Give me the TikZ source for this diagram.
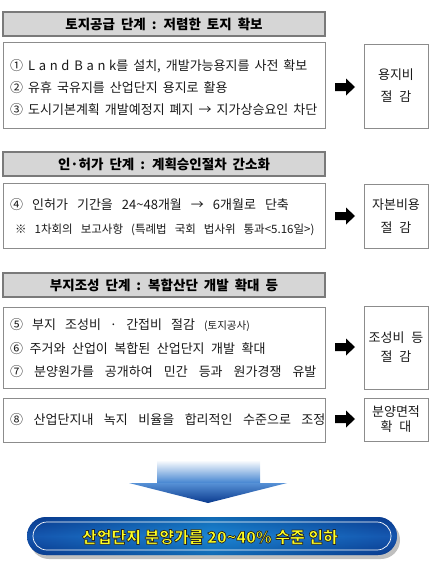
\documentclass[tikz,border=0pt]{standalone}
\usepackage{fontspec}
\setmainfont{Noto Sans CJK KR}
\usetikzlibrary{shadings}
\definecolor{hdfill}{HTML}{D6D6D6}
\definecolor{hdline}{HTML}{7A7A7A}
\definecolor{bxline}{HTML}{8C8C8C}
\definecolor{navy}{HTML}{0A3A8E}
\definecolor{midblue}{HTML}{1E6CC8}
\definecolor{cyanb}{HTML}{1AA6E4}
\definecolor{txtyel}{HTML}{FFFF20}
\definecolor{txtdark}{HTML}{1A1A1A}
\newcommand{\lsp}[1]{{\addfontfeatures{LetterSpace=28}#1}}
\newcommand{\sps}[1]{\spaceskip=#1\relax}
\tikzset{
  hdbox/.style={draw=hdline, line width=1.1pt, fill=hdfill, minimum width=322pt, minimum height=24pt, inner sep=0pt, font={\fontsize{13.5}{17}\selectfont\bfseries\sps{6pt}}},
  ctbox/.style={draw=bxline, line width=0.8pt, fill=white, minimum width=322pt, inner sep=0pt},
  rtbox/.style={draw=bxline, line width=0.8pt, fill=white, minimum width=64pt, inner sep=0pt, align=center, font={\fontsize{13}{15}\selectfont\sps{7pt}}, text=txtdark},
  ln/.style={anchor=west, inner sep=0pt, font={\fontsize{13}{15}\selectfont\sps{5pt}}, text=txtdark},
  sm/.style={anchor=west, inner sep=0pt, font={\fontsize{11.5}{13}\selectfont\sps{8pt}}, text=txtdark},
  blk/.style={fill=black, draw=none},
}
\newcommand{\blkarrow}[1]{\fill[blk] (#1) ++(-10,-4) -- ++(11,0) -- ++(0,-4.5) -- ++(9,8.5) -- ++(-9,8.5) -- ++(0,-4.5) -- ++(-11,0) -- cycle;}
\begin{document}
\begin{tikzpicture}[x=1pt,y=-1pt]
\useasboundingbox (0,0) rectangle (430,565);
% ---------- stage 1
\node[hdbox] (h1) at (164,24) {토지공급 단계 : 저렴한 토지 확보};
\node[ctbox, minimum height=86pt] (b1) at (164,85) {};
\node[ln] (l1) at (10,66) {① \lsp{Land Bank}를 설치, 개발가능용지를 사전 확보};
\node[ln] (l2) at (10,88) {② 유휴 국유지를 산업단지 용지로 활용};
\node[ln] (l3) at (10,110) {③ 도시기본계획 개발예정지 폐지 → 지가상승요인 차단};
\node[rtbox, minimum height=84pt] (r1) at (396,86) {용지비\\[7pt]절 감};
\coordinate (a1) at (345,87); \blkarrow{a1}
% ---------- stage 2
\node[hdbox] (h2) at (164,164) {인·허가 단계 : 계획승인절차 간소화};
\node[ctbox, minimum height=65pt] (b2) at (164,215.5) {};
\node[ln] (l4) at (10,205) {\sps{9pt}④ 인허가 기간을 24\textasciitilde 48개월 → 6개월로 단축};
\node[sm] (l4s) at (15,230) {※ 1차회의 보고사항 (특례법 국회 법사위 통과<5.16일>)};
\node[rtbox, minimum height=64pt] (r2) at (396,216) {자본비용\\[8pt]절 감};
\coordinate (a2) at (345,216); \blkarrow{a2}
% ---------- stage 3
\node[hdbox] (h3) at (164,285) {부지조성 단계 : 복합산단 개발 확대 등};
\node[ctbox, minimum height=81pt] (b3) at (164,347.5) {};
\node[ln] (l5) at (10,325) {\sps{9pt}⑤ 부지 조성비 · 간접비 절감 {\fontsize{10.5}{12}\selectfont (토지공사)}};
\node[ln] (l6) at (10,349) {\sps{6.5pt}⑥ 주거와 산업이 복합된 산업단지 개발 확대};
\node[ln] (l7) at (10,372) {\sps{11pt}⑦ 분양원가를 공개하여 민간 등과 원가경쟁 유발};
\node[rtbox, minimum height=83pt] (r3) at (396,347.5) {조성비 등\\[4pt]절 감};
\coordinate (a3) at (345,347); \blkarrow{a3}
\node[ctbox, minimum height=44pt] (b4) at (164,420) {};
\node[ln] (l8) at (10,420) {\sps{10.5pt}⑧ 산업단지내 녹지 비율을 합리적인 수준으로 조정};
\node[rtbox, minimum height=43pt] (r4) at (396,419.5) {분양면적\\[0pt]확 대};
\coordinate (a4) at (345,419); \blkarrow{a4}
% ---------- big arrow
\shade[top color=white, bottom color=midblue!85!white]
  (157,460) -- (260,460) -- (260,483.5) -- (157,483.5) -- cycle;
\shade[top color=midblue!75!white, bottom color=navy]
  (129,483) -- (287,483) -- (208,503) -- cycle;
\coordinate (tip) at (208,503);
% ---------- banner
\fill[black, opacity=0.25] (30,521) [rounded corners=19pt] rectangle (400,559);
\shade[left color=navy, right color=navy, middle color=cyanb, rounded corners=19pt] (27,517) rectangle (397,555);
\shade[top color=navy, bottom color=navy, middle color=midblue, opacity=0.55, rounded corners=19pt] (27,517) rectangle (397,555);
\draw[white, line width=0.7pt, rounded corners=14pt] (33,522) rectangle (391,550);
\node[inner sep=0pt, font=\fontsize{16}{18}\selectfont\bfseries, text=txtyel] (bt) at (210,537)
  {\special{pdf:literal direct 2 Tr 0.15 0.15 0.15 RG 0.7 w}산업단지 분양가를 20\textasciitilde 40\% 수준 인하\special{pdf:literal direct 0 Tr 0.4 w}};
\end{tikzpicture}
\end{document}
